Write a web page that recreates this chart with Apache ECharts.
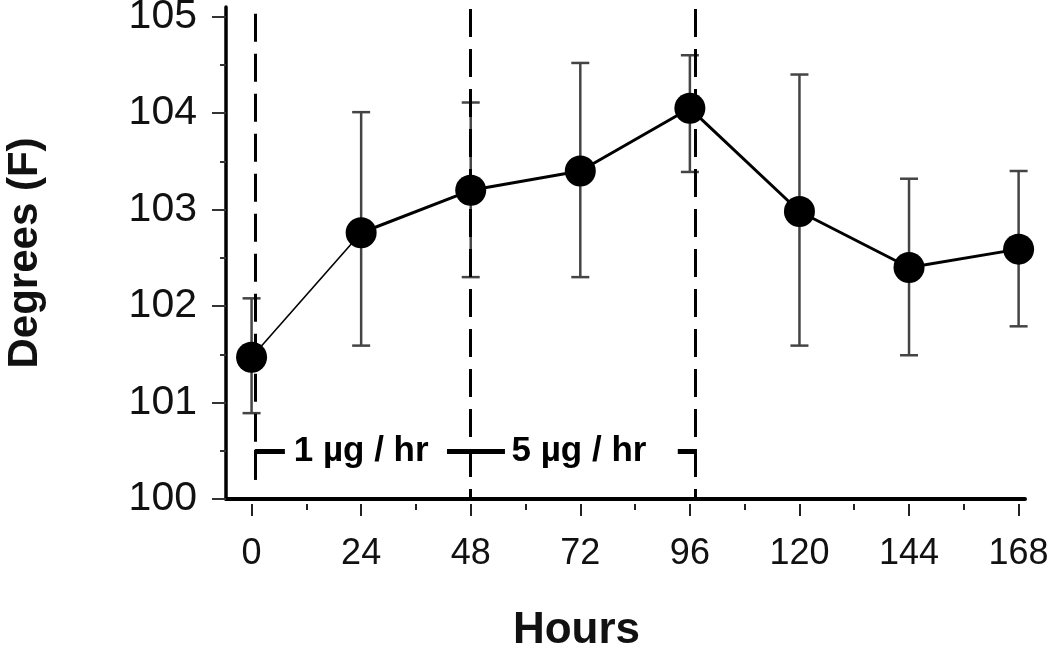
<!DOCTYPE html>
<html>
<head>
<meta charset="utf-8">
<script src="https://cdn.jsdelivr.net/npm/echarts@6/dist/echarts.min.js"></script>
<style>
  html, body { margin: 0; padding: 0; background: #fff; }
  #chart { width: 1050px; height: 649px; }
</style>
</head>
<body>
<div id="chart"></div>
<script>
// data
var hours = [0, 24, 48, 72, 96, 120, 144, 168];
var temps = [101.47, 102.76, 103.20, 103.40, 104.05, 102.98, 102.40, 102.59];
var errLow = [100.89, 101.59, 102.30, 102.30, 103.39, 101.59, 101.49, 101.79];
var errHigh = [102.08, 104.01, 104.11, 104.52, 104.60, 104.40, 103.32, 103.40];

var xMajorTicks = [0, 24, 48, 72, 96, 120, 144, 168];
var xMinorTicks = [12, 36, 60, 84, 108, 132, 156];
var yMajorTicks = [100, 101, 102, 103, 104, 105];
var yMinorTicks = [100.5, 101.5, 102.5, 103.5, 104.5];

// dose period markers
var dashX = [0.77, 48, 97.1];
var dashTop = [105.03, 105.08, 105.08];
var dashBottom = [100.2, 100, 100];
var doseY = 100.49;
var doseBars = [[0.77, 7.3], [42.8, 55.5], [93.35, 97.1]];
var doseLabels = ['1 µg / hr', '5 µg / hr'];
var doseLabelX = [24.0, 71.7];

var dom = document.getElementById('chart');
var chart = echarts.init(dom);

var errData = [];
for (var i = 0; i < hours.length; i++) {
    errData.push([hours[i], errLow[i], errHigh[i]]);
}
var firstSeg = [[hours[0], temps[0]], [hours[1], temps[1]]];
var restSeg = [];
for (i = 1; i < hours.length; i++) restSeg.push([hours[i], temps[i]]);
var points = [];
for (i = 0; i < hours.length; i++) points.push([hours[i], temps[i]]);

var markLines = [];
for (i = 0; i < dashX.length; i++) {
    markLines.push([
        { coord: [dashX[i], dashTop[i]], lineStyle: { type: [28, 12], width: 3, color: '#000' } },
        { coord: [dashX[i], dashBottom[i]] }
    ]);
}
for (i = 0; i < doseBars.length; i++) {
    markLines.push([
        { coord: [doseBars[i][0], doseY], lineStyle: { type: 'solid', width: 5, color: '#000' } },
        { coord: [doseBars[i][1], doseY] }
    ]);
}
// solid foot of the first bracket
markLines.push([
    { coord: [dashX[0], doseY + 0.02], lineStyle: { type: 'solid', width: 3, color: '#000' } },
    { coord: [dashX[0], 100.2] }
]);

var labelData = [];
for (i = 0; i < doseLabels.length; i++) labelData.push([doseLabelX[i], doseY, doseLabels[i]]);

var option = {
    animation: false,
    backgroundColor: '#fff',
    grid: { left: 226, right: 25, top: 7, bottom: 150, outerBoundsMode: 'none', containLabel: false },
    xAxis: [
        {
            type: 'value', min: -5.6, max: 169.4,
            name: 'Hours', nameLocation: 'middle', nameGap: 110,
            nameTextStyle: { fontFamily: 'Liberation Sans', fontWeight: 'bold', fontSize: 44, color: '#111', padding: [0, 98, 0, 0] },
            axisLine: { show: true, onZero: false, lineStyle: { color: '#000', width: 4 } },
            axisTick: { show: false },
            axisLabel: { customValues: xMajorTicks, fontFamily: 'Liberation Sans', fontSize: 36, color: '#111', margin: 37 },
            splitLine: { show: false }
        },
        {
            type: 'value', min: -5.6, max: 169.4, position: 'bottom', offset: 5,
            axisLine: { show: false, onZero: false },
            axisTick: { show: true, customValues: xMajorTicks, length: 12, lineStyle: { color: '#222', width: 2 } },
            axisLabel: { show: false },
            splitLine: { show: false }
        },
        {
            type: 'value', min: -5.6, max: 169.4, position: 'bottom', offset: 5,
            axisLine: { show: false, onZero: false },
            axisTick: { show: true, customValues: xMinorTicks, length: 6, lineStyle: { color: '#222', width: 2 } },
            axisLabel: { show: false },
            splitLine: { show: false }
        }
    ],
    yAxis: [
        {
            type: 'value', min: 100, max: 105.1,
            name: 'Degrees (F)', nameLocation: 'middle', nameGap: 180, nameRotate: 90,
            nameTextStyle: { fontFamily: 'Liberation Sans', fontWeight: 'bold', fontSize: 42, color: '#111' },
            axisLine: { show: true, onZero: false, lineStyle: { color: '#000', width: 3.5 } },
            axisTick: { show: true, customValues: yMajorTicks, length: 14, lineStyle: { color: '#333', width: 2 } },
            axisLabel: { customValues: yMajorTicks, fontFamily: 'Liberation Sans', fontSize: 41, color: '#111', margin: 29 },
            splitLine: { show: false }
        },
        {
            type: 'value', min: 100, max: 105.1, position: 'left',
            axisLine: { show: false, onZero: false },
            axisTick: { show: true, customValues: yMinorTicks, length: 6, lineStyle: { color: '#333', width: 2 } },
            axisLabel: { show: false },
            splitLine: { show: false }
        }
    ],
    series: [
        {
            type: 'line', data: [], symbol: 'none', silent: true,
            markLine: { symbol: ['none', 'none'], silent: true, label: { show: false }, data: markLines }
        },
        {
            type: 'custom', data: errData, z: 3,
            encode: { x: 0, y: [1, 2] },
            renderItem: function (params, api) {
                var x = api.value(0);
                var top = api.coord([x, api.value(2)]);
                var bot = api.coord([x, api.value(1)]);
                var cap = 9;
                var st = { stroke: '#444', lineWidth: 2.5 };
                return {
                    type: 'group',
                    children: [
                        { type: 'line', shape: { x1: top[0], y1: top[1], x2: bot[0], y2: bot[1] }, style: st },
                        { type: 'line', shape: { x1: top[0] - cap, y1: top[1], x2: top[0] + cap, y2: top[1] }, style: st },
                        { type: 'line', shape: { x1: bot[0] - cap, y1: bot[1], x2: bot[0] + cap, y2: bot[1] }, style: st }
                    ]
                };
            }
        },
        {
            type: 'line', data: firstSeg, symbol: 'none', z: 4,
            lineStyle: { color: '#000', width: 1.6 }
        },
        {
            type: 'line', data: restSeg, symbol: 'none', z: 4,
            lineStyle: { color: '#000', width: 3 }
        },
        {
            type: 'scatter', data: points, symbol: 'circle', symbolSize: 31, z: 5,
            itemStyle: { color: '#000', opacity: 1 }
        },
        {
            type: 'scatter', data: labelData, symbolSize: 1, z: 6,
            itemStyle: { color: '#fff', opacity: 0 },
            label: {
                show: true, position: 'inside', opacity: 1,
                formatter: function (p) { return p.value[2]; },
                fontFamily: 'Liberation Sans', fontWeight: 'bold', fontSize: 35, color: '#000',
                textBorderWidth: 0
            }
        }
    ]
};
option && chart.setOption(option);
</script>
</body>
</html>
